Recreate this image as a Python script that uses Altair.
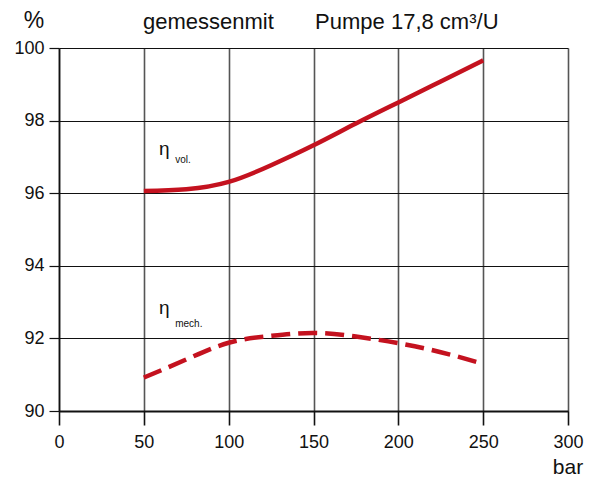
import altair as alt
import pandas as pd

pressure = [50, 75, 100, 125, 150, 175, 200, 225, 250]
eta_vol = [96.06, 96.11, 96.31, 96.77, 97.32, 97.92, 98.50, 99.08, 99.66]
eta_mech = [90.92, 91.42, 91.88, 92.07, 92.15, 92.05, 91.87, 91.62, 91.30]

x_ticks = [0, 50, 100, 150, 200, 250, 300]
y_ticks = [90, 92, 94, 96, 98, 100]

label_sym = ["η", "η"]
label_sym_x = [59, 59]
label_sym_y = [97.06, 92.68]
label_sub = ["vol.", "mech."]
label_sub_x = [68.5, 68.5]
label_sub_y = [96.84, 92.32]

title_parts = ["gemessenmit", "Pumpe 17,8 cm³/U"]
title_x = [49.5, 205]
title_y = [100.52, 100.52]

red = "#c4121f"

df_vol = pd.DataFrame({"p": pressure, "eta": eta_vol})
df_mech = pd.DataFrame({"p": pressure, "eta": eta_mech})
df_sym = pd.DataFrame({"x": label_sym_x, "y": label_sym_y, "t": label_sym})
df_sub = pd.DataFrame({"x": label_sub_x, "y": label_sub_y, "t": label_sub})
df_t1 = pd.DataFrame({"x": title_x[:1], "y": title_y[:1], "t": title_parts[:1]})
df_t2 = pd.DataFrame({"x": title_x[1:], "y": title_y[1:], "t": title_parts[1:]})

xs = alt.Scale(domain=[0, 300], nice=False, zero=False)
ys = alt.Scale(domain=[90, 100], nice=False, zero=False)

xax = alt.Axis(values=x_ticks, title="bar", titleX=508.5, titleY=62, titleAlign="center",
               titleBaseline="alphabetic", titleFontSize=21, titleFontWeight="normal",
               labelFontSize=18, labelPadding=8, tickSize=14, labelFlush=False)
yax = alt.Axis(values=y_ticks, title="%", titleAngle=0, titleX=-25.5, titleY=-21,
               titleAlign="center", titleBaseline="alphabetic", titleFontSize=23,
               titleFontWeight="normal", labelFontSize=18, labelPadding=5, tickSize=10)

vol = alt.Chart(df_vol).mark_line(color=red, strokeWidth=4.5, interpolate="natural").encode(
    x=alt.X("p:Q", scale=xs, axis=xax),
    y=alt.Y("eta:Q", scale=ys, axis=yax),
)
mech = alt.Chart(df_mech).mark_line(color=red, strokeWidth=4.5, strokeDash=[19, 8],
                                     interpolate="natural").encode(
    x=alt.X("p:Q", scale=xs),
    y=alt.Y("eta:Q", scale=ys),
)
sym = alt.Chart(df_sym).mark_text(fontSize=19, align="left", baseline="alphabetic",
                                   font="Liberation Sans", color="#111").encode(
    x=alt.X("x:Q", scale=xs), y=alt.Y("y:Q", scale=ys), text="t:N")
sub = alt.Chart(df_sub).mark_text(fontSize=10, align="left", baseline="alphabetic",
                                   font="Liberation Sans", color="#111").encode(
    x=alt.X("x:Q", scale=xs), y=alt.Y("y:Q", scale=ys), text="t:N")
t1 = alt.Chart(df_t1).mark_text(fontSize=22, align="left", baseline="alphabetic",
                                 font="Liberation Sans", color="#111").encode(
    x=alt.X("x:Q", scale=xs), y=alt.Y("y:Q", scale=ys), text="t:N")
t2 = alt.Chart(df_t2).mark_text(fontSize=22, align="center", baseline="alphabetic",
                                 font="Liberation Sans", color="#111").encode(
    x=alt.X("x:Q", scale=xs), y=alt.Y("y:Q", scale=ys), text="t:N")

chart = alt.layer(vol, mech, sym, sub, t1, t2).properties(
    width=509, height=363,
    padding={"left": 51, "top": 40, "right": 19, "bottom": 66},
    autosize=alt.AutoSizeParams(type="none"),
).configure(font="Liberation Sans").configure_view(stroke=None).configure_axis(
    labelColor="#111", titleColor="#111", labelFont="Liberation Sans", titleFont="Liberation Sans",
    domainColor="#111", tickColor="#111", grid=True,
).configure_axisX(
    gridColor="#555", gridWidth=1.6, gridOpacity=1, domainWidth=2, tickWidth=1.6,
).configure_axisY(
    gridColor="#111", gridWidth=1.2, gridOpacity=1, domainWidth=1.6, tickWidth=1.2,
)

chart.save("out.html", embed_options={"renderer": "svg", "actions": False})
